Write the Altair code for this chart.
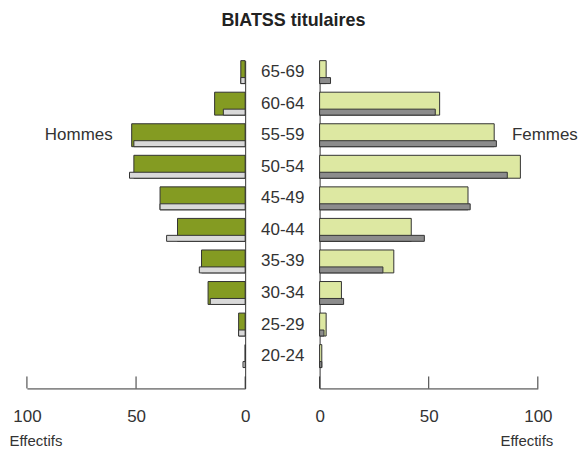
import altair as alt
import pandas as pd

# ---- data ----
ages = ["65-69", "60-64", "55-59", "50-54", "45-49", "40-44", "35-39", "30-34", "25-29", "20-24"]
hommes = [2, 14, 52, 51, 39, 31, 20, 17, 3, 0]
hommes_ref = [2, 10, 51, 53, 39, 36, 21, 16, 3, 1]
femmes = [3, 55, 80, 92, 68, 42, 34, 10, 3, 1]
femmes_ref = [5, 53, 81, 86, 69, 48, 29, 11, 2, 1]
tick_values = [0, 50, 100]
title_text = "BIATSS titulaires"
axis_title = "Effectifs"
label_left = "Hommes"
label_right = "Femmes"
label_row = "55-59"

df = pd.DataFrame({
    "age": ages,
    "hommes": hommes,
    "hommes_ref": hommes_ref,
    "femmes": femmes,
    "femmes_ref": femmes_ref,
})
ticks_df = pd.DataFrame({"v": tick_values})

W = 219
H = 329
FONT = "Liberation Sans"
INK = "#333333"
OLIVE = "#849b22"
LGRAY = "#d9d9d9"
LGREEN = "#dde8a2"
DGRAY = "#8c8c8c"

yscale = alt.Scale(domain=ages, paddingInner=0.27, paddingOuter=0.33, align=0)


def make_panel(col_main, col_ref, fill_main, fill_ref, reverse, y_axis, title_x, title_align,
               label, label_x, label_align):
    xscale = alt.Scale(domain=[0, 100], reverse=reverse, nice=False, zero=True)
    xaxis = alt.Axis(
        orient="bottom", values=tick_values, ticks=False, grid=False,
        domainColor=INK, domainWidth=1, labelFontSize=17, labelColor=INK,
        labelPadding=20, labelFlush=False, labelOverlap=False, labelFont=FONT,
        title=axis_title, titleFontSize=15, titleFontWeight="normal", titleColor=INK,
        titleFont=FONT, titleX=title_x, titleY=45, titleAlign=title_align,
        titleBaseline="top", titleAnchor="start", titleAngle=0,
    )
    y = alt.Y("age:N", scale=yscale, sort=None, axis=y_axis)
    main = alt.Chart(df).mark_bar(height=23, fill=fill_main, stroke=INK, strokeWidth=1).encode(
        x=alt.X(f"{col_main}:Q", scale=xscale, axis=xaxis), y=y)
    ref = alt.Chart(df).mark_bar(height=6, yOffset=8.5, fill=fill_ref, stroke=INK, strokeWidth=1).encode(
        x=alt.X(f"{col_ref}:Q", scale=xscale, axis=xaxis), y=y)
    tk = alt.Chart(ticks_df).mark_rule(color=INK, strokeWidth=1).encode(
        x=alt.X("v:Q", scale=xscale, axis=xaxis),
        y=alt.value(H - 12), y2=alt.value(H))
    txt = alt.Chart(pd.DataFrame({"t": [label], "age": [label_row]})).mark_text(
        align=label_align, baseline="middle", fontSize=17, font=FONT, color=INK
    ).encode(x=alt.value(label_x), y=y, text="t:N")
    return alt.layer(main, ref, tk, txt).properties(width=W, height=H)


left_y_axis = alt.Axis(orient="right", labels=False, ticks=False, domain=True,
                       domainColor=INK, domainWidth=1, title=None, grid=False)
right_y_axis = alt.Axis(orient="left", labels=True, ticks=False, domain=True,
                        domainColor=INK, domainWidth=1, title=None, grid=False,
                        labelAlign="center", labelBaseline="middle", labelPadding=37.5,
                        labelFontSize=17, labelColor=INK, labelFont=FONT)

left = make_panel("hommes", "hommes_ref", OLIVE, LGRAY, True, left_y_axis,
                  -18, "left", label_left, 86, "right")
right = make_panel("femmes", "femmes_ref", LGREEN, DGRAY, False, right_y_axis,
                   234, "right", label_right, 193, "left")

chart = alt.hconcat(left, right, spacing=74.7, bounds="flush").properties(
    title=alt.TitleParams(title_text, fontSize=18, fontWeight="bold", font=FONT,
                          color="#222222", anchor="middle", offset=30),
    padding={"left": 1, "top": 3, "right": 0, "bottom": 0},
).configure(font=FONT).configure_view(stroke=None, strokeWidth=0)

chart.save("out.html", embed_options={"renderer": "svg", "actions": False})
